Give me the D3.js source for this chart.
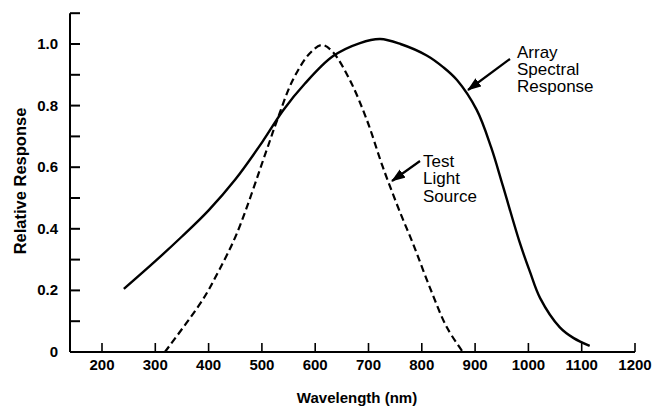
<!DOCTYPE html>
<html>
<head>
<meta charset="utf-8">
<script src="https://cdn.jsdelivr.net/npm/d3@7"></script>
<style>
  body { margin: 0; background: #fff; }
  svg { display: block; }
  text { font-family: "Liberation Sans", Arial, sans-serif; fill: #000; }
  .tick-label { font-size: 15px; font-weight: bold; }
  .note { font-size: 17px; }
</style>
</head>
<body>
<svg id="chart" width="653" height="406"></svg>
<script>
// wavelength (nm) / relative response
var arrayWl  = [241, 300, 350, 400, 450, 500, 540, 580, 633, 684, 722, 760, 810, 840, 866, 903, 930, 952, 984, 1003, 1022, 1059, 1085, 1115];
var arrayVal = [0.205, 0.295, 0.375, 0.46, 0.56, 0.68, 0.785, 0.87, 0.96, 1.003, 1.016, 1.0, 0.962, 0.925, 0.883, 0.786, 0.665, 0.54, 0.354, 0.26, 0.175, 0.08, 0.045, 0.02];

var lightWl  = [318, 389, 418, 453, 509, 528, 558, 590, 613, 633, 665, 697, 727, 760, 783, 815, 847, 877];
var lightVal = [0, 0.17, 0.26, 0.385, 0.656, 0.75, 0.883, 0.97, 0.997, 0.974, 0.883, 0.753, 0.6, 0.45, 0.354, 0.21, 0.08, 0];

var xTicks = [200, 300, 400, 500, 600, 700, 800, 900, 1000, 1100, 1200];
var yTicks = [0, 0.1, 0.2, 0.3, 0.4, 0.5, 0.6, 0.7, 0.8, 0.9, 1.0, 1.1];
var yLabels = [0, 0.2, 0.4, 0.6, 0.8, 1.0];

var svg = d3.select("#chart");

var x = d3.scaleLinear().domain([200, 1200]).range([102, 635]);
var y = d3.scaleLinear().domain([0, 1]).range([352, 44]);

// axes
svg.append("line")
    .attr("x1", 70).attr("x2", 70)
    .attr("y1", y(0)).attr("y2", y(1.1))
    .attr("stroke", "#000").attr("stroke-width", 2);

svg.append("line")
    .attr("x1", 70).attr("x2", x(1200))
    .attr("y1", y(0)).attr("y2", y(0))
    .attr("stroke", "#000").attr("stroke-width", 2);

svg.selectAll(".ytick")
    .data(yTicks)
    .enter()
    .append("line")
    .attr("class", "ytick")
    .attr("x1", 70).attr("x2", 80)
    .attr("y1", function(d) { return y(d); })
    .attr("y2", function(d) { return y(d); })
    .attr("stroke", "#000").attr("stroke-width", 2);

svg.selectAll(".ylab")
    .data(yLabels)
    .enter()
    .append("text")
    .attr("class", "tick-label")
    .attr("x", 58)
    .attr("y", function(d) { return y(d) + 5; })
    .style("text-anchor", "end")
    .text(function(d) { return d === 0 ? "0" : d3.format(".1f")(d); });

svg.selectAll(".xtick")
    .data(xTicks)
    .enter()
    .append("line")
    .attr("class", "xtick")
    .attr("x1", function(d) { return x(d); })
    .attr("x2", function(d) { return x(d); })
    .attr("y1", y(0)).attr("y2", y(0) - 9)
    .attr("stroke", "#000").attr("stroke-width", 1.6);

svg.selectAll(".xlab")
    .data(xTicks)
    .enter()
    .append("text")
    .attr("class", "tick-label")
    .attr("x", function(d) { return x(d); })
    .attr("y", 370)
    .style("text-anchor", "middle")
    .text(function(d) { return d; });

svg.append("text")
    .attr("transform", "translate(26, 181) rotate(-90)")
    .style("text-anchor", "middle")
    .style("font-size", "16.5px")
    .style("font-weight", "bold")
    .text("Relative Response");

svg.append("text")
    .attr("x", 357).attr("y", 403)
    .style("text-anchor", "middle")
    .style("font-size", "15px")
    .style("font-weight", "bold")
    .text("Wavelength (nm)");

// curves
var line = d3.line()
    .x(function(d) { return x(d[0]); })
    .y(function(d) { return y(d[1]); })
    .curve(d3.curveCatmullRom);

svg.append("path")
    .datum(d3.zip(arrayWl, arrayVal))
    .attr("d", line)
    .attr("fill", "none")
    .attr("stroke", "#000")
    .attr("stroke-width", 2.4);

svg.append("path")
    .datum(d3.zip(lightWl, lightVal))
    .attr("d", line)
    .attr("fill", "none")
    .attr("stroke", "#000")
    .attr("stroke-width", 2.2)
    .attr("stroke-dasharray", "7,4");

// annotations
svg.append("defs").append("marker")
    .attr("id", "head")
    .attr("viewBox", "0 0 14 10")
    .attr("refX", 13).attr("refY", 5)
    .attr("markerUnits", "userSpaceOnUse")
    .attr("markerWidth", 14).attr("markerHeight", 10)
    .attr("orient", "auto")
    .append("path")
    .attr("d", "M0,0 L14,5 L0,10 z")
    .attr("fill", "#000");

function note(lines, tx, ty, ax1, ay1, ax2, ay2) {
    svg.append("line")
        .attr("x1", ax1).attr("y1", ay1)
        .attr("x2", ax2).attr("y2", ay2)
        .attr("stroke", "#000").attr("stroke-width", 2.2)
        .attr("marker-end", "url(#head)");
    var t = svg.append("text").attr("class", "note");
    lines.forEach(function(s, i) {
        t.append("tspan").attr("x", tx).attr("y", ty + i * 17.3).text(s);
    });
}

note(["Array", "Spectral", "Response"], 517, 57.5, 510, 59, 468, 90);
note(["Test", "Light", "Source"], 423, 167, 420, 161, 392, 181);
</script>
</body>
</html>
